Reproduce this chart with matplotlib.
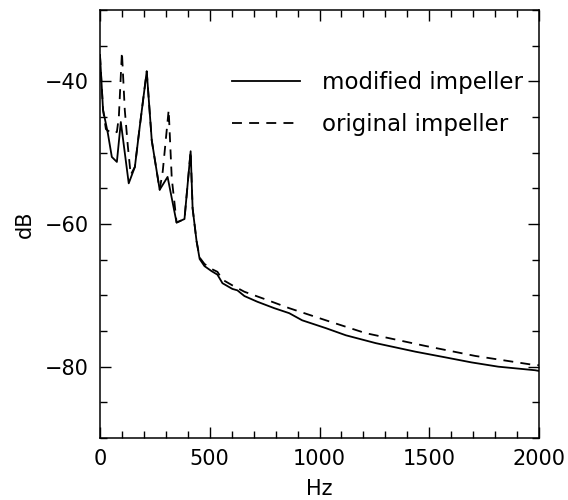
import matplotlib
matplotlib.use("Agg")
import matplotlib.pyplot as plt
from matplotlib.ticker import FixedLocator, MultipleLocator

# Data
hz_modified = [0, 14, 36, 54, 77, 95, 131, 159, 181, 213, 236, 272, 308, 349, 385,
               413, 422, 440, 454, 476, 508, 535, 558, 603, 626, 658, 717, 794,
               862, 921, 1029, 1120, 1256, 1437, 1574, 1692, 1814, 1982, 2000]
db_modified = [-36.3, -44.0, -47.3, -50.6, -51.3, -45.7, -54.3, -52.0, -46.4, -38.6,
               -48.3, -55.2, -53.4, -59.8, -59.3, -49.8, -57.8, -62.4, -64.9, -65.9,
               -66.6, -67.1, -68.3, -69.1, -69.3, -70.1, -70.9, -71.8, -72.5, -73.5,
               -74.6, -75.6, -76.7, -77.9, -78.7, -79.4, -80.0, -80.5, -80.6]

hz_original = [0, 14, 27, 54, 77, 86, 100, 113, 127, 140, 159, 181, 213, 236, 272,
               286, 313, 327, 340, 349, 385, 413, 422, 440, 454, 476, 508, 535, 558,
               603, 658, 757, 862, 1029, 1210, 1483, 1710, 1964, 2000]
db_original = [-36.3, -44.0, -46.7, -47.3, -47.1, -45.0, -35.9, -44.0, -49.1, -53.1,
               -52.0, -46.4, -38.6, -48.3, -55.2, -52.6, -44.0, -53.6, -57.2, -59.8,
               -59.3, -49.8, -57.8, -62.4, -64.7, -65.6, -66.3, -66.7, -67.8, -68.6,
               -69.5, -70.6, -71.8, -73.5, -75.3, -77.1, -78.5, -79.7, -79.8]

series_labels = ["modified impeller", "original impeller"]
x_label = "Hz"
y_label = "dB"
x_ticks = [0, 500, 1000, 1500, 2000]
y_ticks = [-80, -60, -40]

plt.rcParams['font.family'] = ['DejaVu Sans']
fig = plt.figure(figsize=(5.68, 5.0), dpi=100)
ax = fig.add_axes([0.176, 0.124, 0.773, 0.856])

ax.plot(hz_modified, db_modified, color='black', lw=1.3, label=series_labels[0])
ax.plot(hz_original, db_original, color='black', lw=1.3, dashes=(5.5, 4),
        label=series_labels[1])

ax.set_xlim(0, 2000)
ax.set_ylim(-90, -30)
ax.xaxis.set_major_locator(FixedLocator(x_ticks))
ax.xaxis.set_minor_locator(MultipleLocator(100))
ax.yaxis.set_major_locator(FixedLocator(y_ticks))
ax.yaxis.set_minor_locator(MultipleLocator(5))
ax.tick_params(which='both', direction='in', top=True, right=True,
               labelsize=15, width=1.0, color='black')
ax.tick_params(which='major', length=8, pad=8)
ax.tick_params(which='minor', length=5)
for s in ax.spines.values():
    s.set_linewidth(1.1)

ax.set_xlabel(x_label, fontsize=15, labelpad=7)
ax.set_ylabel(y_label, fontsize=15, labelpad=7)

ax.legend(loc='upper left', bbox_to_anchor=(0.30, 0.858), frameon=False,
          fontsize=16.5, handlelength=3.0, handletextpad=0.95, labelspacing=0.85,
          borderaxespad=0.0, borderpad=0.0)

fig.savefig("out.png", dpi=100)
